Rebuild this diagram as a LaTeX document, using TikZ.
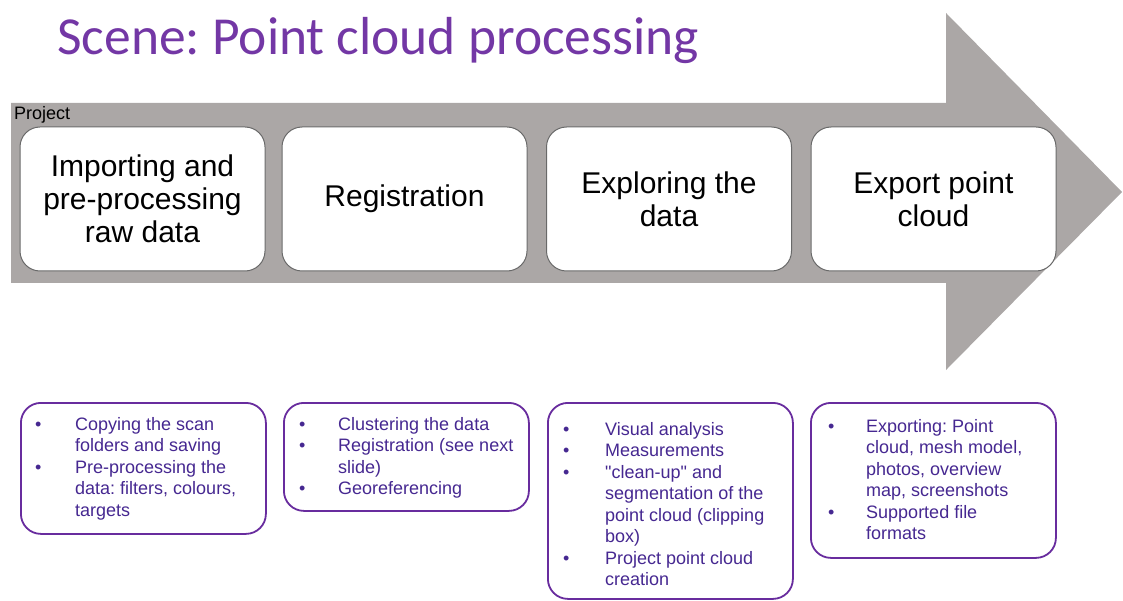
\documentclass[tikz,border=0pt]{standalone}
\usepackage{fontspec}
\setmainfont{Liberation Sans}[Ligatures=TeXOff]
\newfontfamily\titlefont{Carlito}
\usetikzlibrary{calc}
\frenchspacing
\definecolor{arrowgray}{RGB}{171,167,166}
\definecolor{titlepurple}{RGB}{115,55,165}
\definecolor{framepurple}{RGB}{104,44,158}
\definecolor{listtext}{RGB}{70,40,145}
\definecolor{stepframe}{RGB}{105,105,105}
\begin{document}
\begin{tikzpicture}[x=1pt,y=-1pt,
  stepbox/.style={draw=stepframe, line width=1pt, fill=white, rounded corners=20pt,
    minimum width=245pt, minimum height=144pt, inner sep=0pt, align=center,
    font=\fontsize{30}{33}\selectfont, text=black},
  listbox/.style={draw=framepurple, line width=1.8pt, fill=white, rounded corners=20pt,
    minimum width=245pt, inner sep=0pt, anchor=north west},
  listtext/.style={anchor=north west, inner sep=0pt, text=listtext,
    font=\fontsize{18}{21.5}\selectfont},
]
\useasboundingbox (0,0) rectangle (1123,601);

% title
\node[anchor=base west, inner sep=0pt, text=titlepurple,
      font=\titlefont\fontsize{53.5}{60}\selectfont] (title) at (57,55) {Scene: Point cloud processing};

% big process arrow
\fill[arrowgray] (11,103) -- (946,103) -- (946,13) -- (1122,192) -- (946,370)
  -- (946,283) -- (11,283) -- cycle;
\node[anchor=base west, inner sep=0pt, font=\fontsize{18}{20}\selectfont] (project) at (14,120) {Project};

% process steps
\node[stepbox] (s1) at (142.5,199) {Importing and\\pre-processing\\raw data};
\node[stepbox] (s2) at (404.5,199) {Registration};
\node[stepbox] (s3) at (669,199) {Exploring the\\data};
\node[stepbox] (s4) at (933.5,199) {Export point\\cloud};

% detail boxes
\node[listbox, minimum height=131pt] (l1) at (20,402) {};
\node[listbox, minimum height=108pt] (l2) at (283,402) {};
\node[listbox, minimum height=196pt] (l3) at (547,402) {};
\node[listbox, minimum height=155pt] (l4) at (810,402) {};

\node[listtext] (t1) at ($(l1.north west)+(15,13)$) {%
  \begin{tabular}{@{}p{40pt}@{}l@{}}
  \textbullet & Copying the scan\\
              & folders and saving\\
  \textbullet & Pre-processing the\\
              & data: filters, colours,\\
              & targets
  \end{tabular}};
\node[listtext] (t2) at ($(l2.north west)+(16,13)$) {%
  \begin{tabular}{@{}p{39pt}@{}l@{}}
  \textbullet & Clustering the data\\
  \textbullet & Registration (see next\\
              & slide)\\
  \textbullet & Georeferencing
  \end{tabular}};
\node[listtext] (t3) at ($(l3.north west)+(16,18)$) {%
  \begin{tabular}{@{}p{42pt}@{}l@{}}
  \textbullet & Visual analysis\\
  \textbullet & Measurements\\
  \textbullet & "clean-up" and\\
              & segmentation of the\\
              & point cloud (clipping\\
              & box)\\
  \textbullet & Project point cloud\\
              & creation
  \end{tabular}};
\node[listtext] (t4) at ($(l4.north west)+(18,15)$) {%
  \begin{tabular}{@{}p{38pt}@{}l@{}}
  \textbullet & Exporting: Point\\
              & cloud, mesh model,\\
              & photos, overview\\
              & map, screenshots\\
  \textbullet & Supported file\\
              & formats
  \end{tabular}};
\end{tikzpicture}
\end{document}
